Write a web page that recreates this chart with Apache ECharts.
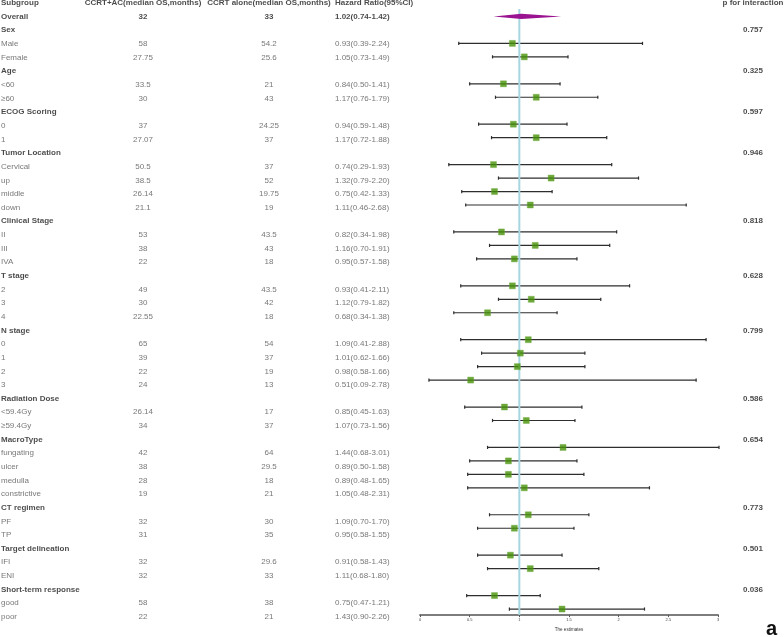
<!DOCTYPE html>
<html>
<head>
<meta charset="utf-8">
<title>Forest plot</title>
<script src="https://cdn.jsdelivr.net/npm/echarts@6/dist/echarts.min.js"></script>
<style>
  html, body { margin: 0; padding: 0; background: #fff; }
  #chart { width: 784px; height: 637px; }
</style>
</head>
<body>
<div id="chart"></div>
<script>
// rows under the header, top to bottom
const subgroups = ['Overall', 'Sex', 'Male', 'Female', 'Age', '<60', '≥60', 'ECOG Scoring', '0', '1',
  'Tumor Location', 'Cervical', 'up', 'middle', 'down', 'Clinical Stage', 'II', 'III', 'IVA',
  'T stage', '2', '3', '4', 'N stage', '0', '1', '2', '3', 'Radiation Dose', '<59.4Gy', '≥59.4Gy',
  'MacroType', 'fungating', 'ulcer', 'medulla', 'constrictive', 'CT regimen', 'PF', 'TP',
  'Target delineation', 'IFI', 'ENI', 'Short-term response', 'good', 'poor']
const acOS = [32, null, 58, 27.75, null, 33.5, 30, null, 37, 27.07,
  null, 50.5, 38.5, 26.14, 21.1, null, 53, 38, 22,
  null, 49, 30, 22.55, null, 65, 39, 22, 24, null, 26.14, 34,
  null, 42, 38, 28, 19, null, 32, 31,
  null, 32, 32, null, 58, 22]
const aloneOS = [33, null, 54.2, 25.6, null, 21, 43, null, 24.25, 37,
  null, 37, 52, 19.75, 19, null, 43.5, 43, 18,
  null, 43.5, 42, 18, null, 54, 37, 19, 13, null, 17, 37,
  null, 64, 29.5, 18, 21, null, 30, 35,
  null, 29.6, 33, null, 38, 21]
const hr = [1.02, null, 0.93, 1.05, null, 0.84, 1.17, null, 0.94, 1.17,
  null, 0.74, 1.32, 0.75, 1.11, null, 0.82, 1.16, 0.95,
  null, 0.93, 1.12, 0.68, null, 1.09, 1.01, 0.98, 0.51, null, 0.85, 1.07,
  null, 1.44, 0.89, 0.89, 1.05, null, 1.09, 0.95,
  null, 0.91, 1.11, null, 0.75, 1.43]
const ciLow = [0.74, null, 0.39, 0.73, null, 0.50, 0.76, null, 0.59, 0.72,
  null, 0.29, 0.79, 0.42, 0.46, null, 0.34, 0.70, 0.57,
  null, 0.41, 0.79, 0.34, null, 0.41, 0.62, 0.58, 0.09, null, 0.45, 0.73,
  null, 0.68, 0.50, 0.48, 0.48, null, 0.70, 0.58,
  null, 0.58, 0.68, null, 0.47, 0.90]
const ciHigh = [1.42, null, 2.24, 1.49, null, 1.41, 1.79, null, 1.48, 1.88,
  null, 1.93, 2.20, 1.33, 2.68, null, 1.98, 1.91, 1.58,
  null, 2.11, 1.82, 1.38, null, 2.88, 1.66, 1.66, 2.78, null, 1.63, 1.56,
  null, 3.01, 1.58, 1.65, 2.31, null, 1.70, 1.55,
  null, 1.43, 1.80, null, 1.21, 2.26]
const pInteraction = [null, '0.757', null, null, '0.325', null, null, '0.597', null, null,
  '0.946', null, null, null, null, '0.818', null, null, null,
  '0.628', null, null, null, '0.799', null, null, null, null, '0.586', null, null,
  '0.654', null, null, null, null, '0.773', null, null,
  '0.501', null, null, '0.036', null, null]
const headers = ['Subgroup', 'CCRT+AC(median OS,months)', 'CCRT alone(median OS,months)', 'Hazard Ratio(95%CI)', 'p for interaction']
const xTicks = { min: 0, max: 3, interval: 0.5 }
const refValue = 1

const FONT = '"Liberation Sans", Arial, sans-serif'
const ROWMAX = 45.45
const isBold = i => i === 0 || hr[i] == null

const hrText = hr.map((v, i) => v == null ? null :
  v.toFixed(2) + '(' + ciLow[i].toFixed(2) + '-' + ciHigh[i].toFixed(2) + ')')

// one grid per column, all sharing the same row scale
const cols = [
  { left: 1, width: 80, x: 0, align: 'left', header: headers[0], values: subgroups },
  { left: 100, width: 86, x: 0.5, align: 'center', header: headers[1], values: acOS },
  { left: 226, width: 86, x: 0.5, align: 'center', header: headers[2], values: aloneOS },
  { left: 335, width: 80, x: 0, align: 'left', header: headers[3], values: hrText },
  { left: 723, width: 60, x: 0.5, align: 'center', header: headers[4], values: pInteraction, allBold: true }
]

const grids = []
const xAxes = []
const yAxes = []
const series = []

cols.forEach((c, k) => {
  grids.push({ left: c.left, width: c.width, top: 3, height: 620 })
  xAxes.push({ gridIndex: k, type: 'value', min: 0, max: 1, show: false })
  yAxes.push({ gridIndex: k, type: 'value', min: 0, max: ROWMAX, inverse: true, show: false })
  const data = [{ name: c.header, value: [c.x, 0], label: { fontWeight: 'bold', color: '#1a1a1a' } }]
  c.values.forEach((v, i) => {
    if (v == null) return
    const bold = c.allBold || isBold(i)
    data.push({
      name: String(v), value: [c.x, i + 1],
      label: { fontWeight: bold ? 'bold' : 'normal', color: bold ? '#1a1a1a' : '#555' }
    })
  })
  series.push({
    type: 'scatter', xAxisIndex: k, yAxisIndex: k, symbolSize: 0, silent: true,
    data: data,
    label: {
      show: true, position: 'inside', formatter: '{b}', align: c.align, verticalAlign: 'middle',
      fontSize: 8, fontFamily: FONT
    }
  })
})

// forest plot grid
const fg = cols.length
grids.push({ left: 420, width: 298, top: 3, height: 620 })
xAxes.push({
  gridIndex: fg, type: 'value', position: 'bottom',
  min: xTicks.min, max: xTicks.max, interval: xTicks.interval,
  axisLine: { show: true, onZero: false, lineStyle: { color: '#7d7d7d', width: 2 } },
  axisTick: { show: true, length: 2, lineStyle: { color: '#555' } },
  axisLabel: { fontSize: 4, color: '#444', margin: 3, fontFamily: FONT },
  splitLine: { show: false },
  name: 'The estimates', nameLocation: 'middle', nameGap: 10,
  nameTextStyle: { fontSize: 4.5, color: '#333', fontFamily: FONT }
})
yAxes.push({ gridIndex: fg, type: 'value', min: 0, max: ROWMAX, inverse: true, show: false })

const ciData = []
const pointData = []
hr.forEach((v, i) => {
  if (v == null || i === 0) return
  ciData.push([ciLow[i], ciHigh[i], i + 1])
  pointData.push([v, i + 1])
})

series.push({
  type: 'custom', xAxisIndex: fg, yAxisIndex: fg, silent: true, z: 2,
  data: ciData,
  renderItem: function (params, api) {
    const a = api.coord([api.value(0), api.value(2)])
    const b = api.coord([api.value(1), api.value(2)])
    const st = { stroke: '#2e2e2e', lineWidth: 1.2 }
    return {
      type: 'group',
      children: [
        { type: 'line', shape: { x1: a[0], y1: a[1], x2: b[0], y2: b[1] }, style: st },
        { type: 'line', shape: { x1: a[0], y1: a[1] - 1.6, x2: a[0], y2: a[1] + 1.6 }, style: st },
        { type: 'line', shape: { x1: b[0], y1: b[1] - 1.6, x2: b[0], y2: b[1] + 1.6 }, style: st }
      ]
    }
  }
})

// reference line at HR = 1, above the CI bars but under the squares
series.push({
  type: 'custom', xAxisIndex: fg, yAxisIndex: fg, silent: true, z: 3,
  data: [[refValue, 0.45, ROWMAX]],
  renderItem: function (params, api) {
    const top = api.coord([api.value(0), api.value(1)])
    const bot = api.coord([api.value(0), api.value(2)])
    return {
      type: 'line',
      shape: { x1: top[0], y1: top[1], x2: bot[0], y2: bot[1] },
      style: { stroke: '#a6d6e0', lineWidth: 2 }
    }
  }
})

series.push({
  type: 'scatter', xAxisIndex: fg, yAxisIndex: fg, silent: true, z: 4,
  symbol: 'rect', symbolSize: 6,
  itemStyle: { color: '#479208', borderColor: '#6aa838', borderWidth: 0.5 },
  data: pointData
})

// overall diamond
series.push({
  type: 'custom', xAxisIndex: fg, yAxisIndex: fg, silent: true, z: 5,
  data: [[ciLow[0], hr[0], ciHigh[0], 1]],
  renderItem: function (params, api) {
    const l = api.coord([api.value(0), api.value(3)])
    const m = api.coord([api.value(1), api.value(3)])
    const r = api.coord([api.value(2), api.value(3)])
    return {
      type: 'polygon',
      shape: { points: [[l[0], l[1]], [m[0], m[1] - 2.6], [r[0], r[1]], [m[0], m[1] + 2.6]] },
      style: { fill: '#9a1390' }
    }
  }
})

const chart = echarts.init(document.getElementById('chart'))
chart.setOption({
  animation: false,
  title: {
    text: 'a', right: 2, top: 614,
    textStyle: { fontSize: 20, fontWeight: 'bold', color: '#111', fontFamily: FONT }
  },
  grid: grids,
  xAxis: xAxes,
  yAxis: yAxes,
  series: series
})
</script>
</body>
</html>
